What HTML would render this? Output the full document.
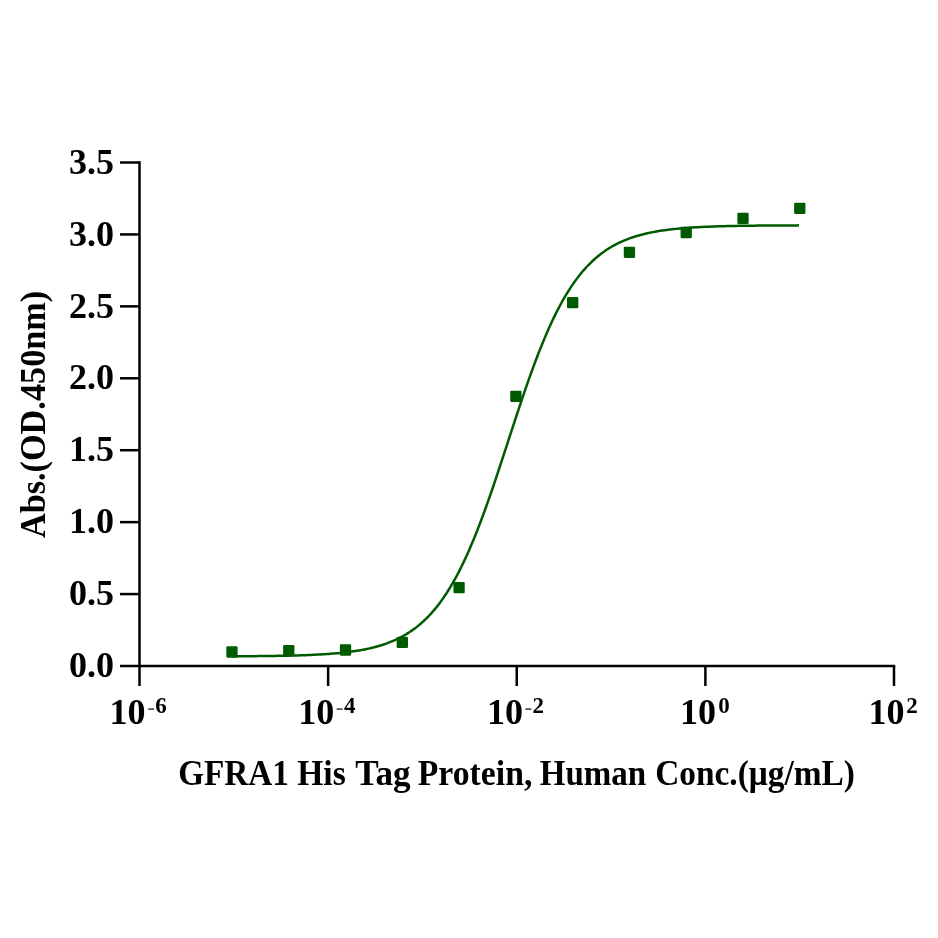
<!DOCTYPE html>
<html lang="en"><head><meta charset="utf-8"><title>GFRA1 His Tag Protein, Human Conc.(μg/mL)</title>
<style>
html,body{margin:0;padding:0;background:#fff;}
body{width:938px;height:938px;overflow:hidden;}
svg{display:block;will-change:transform;}
text{font-family:"Liberation Serif",serif;font-weight:bold;fill:#000;}
</style></head><body>
<svg width="938" height="938" viewBox="0 0 938 938">
<rect width="938" height="938" fill="#fff"/>
<g stroke="#000" stroke-width="2.5" fill="none" stroke-linecap="butt">
<line x1="139.5" y1="161.25" x2="139.5" y2="686"/>
<line x1="120" y1="666.0" x2="895.25" y2="666.0"/>
<line x1="120" y1="594.07" x2="139.5" y2="594.07"/>
<line x1="120" y1="522.14" x2="139.5" y2="522.14"/>
<line x1="120" y1="450.21" x2="139.5" y2="450.21"/>
<line x1="120" y1="378.29" x2="139.5" y2="378.29"/>
<line x1="120" y1="306.36" x2="139.5" y2="306.36"/>
<line x1="120" y1="234.43" x2="139.5" y2="234.43"/>
<line x1="120" y1="162.50" x2="139.5" y2="162.50"/>
<line x1="328.12" y1="666.0" x2="328.12" y2="686"/>
<line x1="516.75" y1="666.0" x2="516.75" y2="686"/>
<line x1="705.38" y1="666.0" x2="705.38" y2="686"/>
<line x1="894.00" y1="666.0" x2="894.00" y2="686"/>
</g>
<polyline points="231.87,656.30 233.77,656.29 235.66,656.28 237.56,656.27 239.46,656.26 241.35,656.25 243.25,656.24 245.15,656.22 247.04,656.21 248.94,656.20 250.84,656.18 252.73,656.17 254.63,656.15 256.53,656.13 258.42,656.12 260.32,656.10 262.22,656.08 264.11,656.05 266.01,656.03 267.91,656.01 269.80,655.98 271.70,655.96 273.60,655.93 275.50,655.90 277.39,655.87 279.29,655.83 281.19,655.80 283.08,655.76 284.98,655.72 286.88,655.68 288.77,655.64 290.67,655.59 292.57,655.55 294.46,655.50 296.36,655.44 298.26,655.38 300.15,655.33 302.05,655.26 303.95,655.20 305.84,655.13 307.74,655.05 309.64,654.97 311.53,654.89 313.43,654.80 315.33,654.71 317.22,654.62 319.12,654.51 321.02,654.41 322.91,654.29 324.81,654.17 326.71,654.04 328.60,653.91 330.50,653.77 332.40,653.62 334.29,653.46 336.19,653.30 338.09,653.13 339.98,652.94 341.88,652.75 343.78,652.54 345.68,652.33 347.57,652.10 349.47,651.86 351.37,651.61 353.26,651.34 355.16,651.06 357.06,650.76 358.95,650.45 360.85,650.12 362.75,649.77 364.64,649.41 366.54,649.02 368.44,648.62 370.33,648.19 372.23,647.74 374.13,647.26 376.02,646.76 377.92,646.24 379.82,645.68 381.71,645.10 383.61,644.48 385.51,643.84 387.40,643.16 389.30,642.44 391.20,641.69 393.09,640.90 394.99,640.07 396.89,639.19 398.78,638.27 400.68,637.31 402.58,636.29 404.47,635.22 406.37,634.11 408.27,632.93 410.16,631.70 412.06,630.40 413.96,629.05 415.86,627.63 417.75,626.13 419.65,624.57 421.55,622.94 423.44,621.23 425.34,619.44 427.24,617.56 429.13,615.61 431.03,613.56 432.93,611.43 434.82,609.20 436.72,606.87 438.62,604.45 440.51,601.92 442.41,599.29 444.31,596.56 446.20,593.71 448.10,590.75 450.00,587.68 451.89,584.50 453.79,581.20 455.69,577.78 457.58,574.24 459.48,570.57 461.38,566.79 463.27,562.89 465.17,558.87 467.07,554.72 468.96,550.46 470.86,546.07 472.76,541.57 474.65,536.95 476.55,532.22 478.45,527.38 480.34,522.44 482.24,517.39 484.14,512.25 486.04,507.01 487.93,501.68 489.83,496.28 491.73,490.79 493.62,485.24 495.52,479.62 497.42,473.96 499.31,468.24 501.21,462.48 503.11,456.69 505.00,450.88 506.90,445.06 508.80,439.23 510.69,433.40 512.59,427.58 514.49,421.78 516.38,416.01 518.28,410.28 520.18,404.58 522.07,398.94 523.97,393.36 525.87,387.85 527.76,382.41 529.66,377.05 531.56,371.77 533.45,366.58 535.35,361.49 537.25,356.50 539.14,351.61 541.04,346.84 542.94,342.17 544.83,337.62 546.73,333.18 548.63,328.86 550.52,324.67 552.42,320.59 554.32,316.63 556.22,312.80 558.11,309.08 560.01,305.49 561.91,302.02 563.80,298.66 565.70,295.43 567.60,292.31 569.49,289.30 571.39,286.41 573.29,283.62 575.18,280.95 577.08,278.38 578.98,275.91 580.87,273.54 582.77,271.27 584.67,269.09 586.56,267.01 588.46,265.01 590.36,263.10 592.25,261.28 594.15,259.53 596.05,257.86 597.94,256.27 599.84,254.75 601.74,253.30 603.63,251.91 605.53,250.59 607.43,249.33 609.32,248.13 611.22,246.99 613.12,245.90 615.01,244.86 616.91,243.87 618.81,242.93 620.70,242.04 622.60,241.19 624.50,240.38 626.40,239.61 628.29,238.88 630.19,238.18 632.09,237.52 633.98,236.89 635.88,236.30 637.78,235.73 639.67,235.19 641.57,234.68 643.47,234.19 645.36,233.73 647.26,233.30 649.16,232.88 651.05,232.49 652.95,232.11 654.85,231.76 656.74,231.42 658.64,231.10 660.54,230.80 662.43,230.51 664.33,230.24 666.23,229.98 668.12,229.73 670.02,229.50 671.92,229.28 673.81,229.07 675.71,228.87 677.61,228.68 679.50,228.50 681.40,228.33 683.30,228.17 685.19,228.02 687.09,227.88 688.99,227.74 690.88,227.61 692.78,227.49 694.68,227.37 696.58,227.26 698.47,227.16 700.37,227.06 702.27,226.96 704.16,226.87 706.06,226.79 707.96,226.71 709.85,226.63 711.75,226.56 713.65,226.49 715.54,226.43 717.44,226.37 719.34,226.31 721.23,226.26 723.13,226.20 725.03,226.15 726.92,226.11 728.82,226.06 730.72,226.02 732.61,225.98 734.51,225.94 736.41,225.91 738.30,225.87 740.20,225.84 742.10,225.81 743.99,225.78 745.89,225.76 747.79,225.73 749.68,225.71 751.58,225.68 753.48,225.66 755.37,225.64 757.27,225.62 759.17,225.60 761.06,225.58 762.96,225.57 764.86,225.55 766.76,225.54 768.65,225.52 770.55,225.51 772.45,225.50 774.34,225.48 776.24,225.47 778.14,225.46 780.03,225.45 781.93,225.44 783.83,225.43 785.72,225.42 787.62,225.41 789.52,225.41 791.41,225.40 793.31,225.39 795.21,225.39 797.10,225.38 799.00,225.37" fill="none" stroke="#005a00" stroke-width="2.5" stroke-linejoin="round"/>
<g fill="#005a00">
<rect x="226.32" y="646.35" width="11.3" height="11.3" rx="1.1"/>
<rect x="283.10" y="645.05" width="11.3" height="11.3" rx="1.1"/>
<rect x="339.88" y="644.35" width="11.3" height="11.3" rx="1.1"/>
<rect x="396.67" y="636.75" width="11.3" height="11.3" rx="1.1"/>
<rect x="453.45" y="581.95" width="11.3" height="11.3" rx="1.1"/>
<rect x="510.23" y="390.65" width="11.3" height="11.3" rx="1.1"/>
<rect x="567.01" y="296.95" width="11.3" height="11.3" rx="1.1"/>
<rect x="623.79" y="246.65" width="11.3" height="11.3" rx="1.1"/>
<rect x="680.57" y="226.85" width="11.3" height="11.3" rx="1.1"/>
<rect x="737.36" y="212.75" width="11.3" height="11.3" rx="1.1"/>
<rect x="794.14" y="202.65" width="11.3" height="11.3" rx="1.1"/>
</g>
<g font-size="36" text-anchor="end">
<text x="114" y="677.20">0.0</text>
<text x="114" y="605.27">0.5</text>
<text x="114" y="533.34">1.0</text>
<text x="114" y="461.41">1.5</text>
<text x="114" y="389.49">2.0</text>
<text x="114" y="317.56">2.5</text>
<text x="114" y="245.63">3.0</text>
<text x="114" y="173.70">3.5</text>
</g>
<g font-size="36">
<text x="109.40" y="724.3">10<tspan x="166.10" y="713.3" font-size="23" text-anchor="end"><tspan font-weight="normal" fill="#555" dx="0.6" dy="1.7">-</tspan><tspan dx="0.4" dy="-1.7">6</tspan></tspan></text>
<text x="298.20" y="724.3">10<tspan x="354.80" y="713.3" font-size="23" text-anchor="end"><tspan font-weight="normal" fill="#555" dx="0.6" dy="1.7">-</tspan><tspan dx="0.4" dy="-1.7">4</tspan></tspan></text>
<text x="487.05" y="724.3">10<tspan x="543.40" y="713.3" font-size="23" text-anchor="end"><tspan font-weight="normal" fill="#555" dx="0.6" dy="1.7">-</tspan><tspan dx="0.4" dy="-1.7">2</tspan></tspan></text>
<text x="679.90" y="724.3">10<tspan x="729.80" y="713.3" font-size="23" text-anchor="end">0</tspan></text>
<text x="868.50" y="724.3">10<tspan x="917.80" y="713.3" font-size="23" text-anchor="end">2</tspan></text>
</g>
<text y="784.8" font-size="35.4"><tspan x="178.15" textLength="110.79" lengthAdjust="spacingAndGlyphs">GFRA1</tspan> <tspan x="297.27" textLength="48.48" lengthAdjust="spacingAndGlyphs">His</tspan> <tspan x="355.32" textLength="55.38" lengthAdjust="spacingAndGlyphs">Tag</tspan> <tspan x="417.76" textLength="114.57" lengthAdjust="spacingAndGlyphs">Protein,</tspan> <tspan x="539.78" textLength="106.46" lengthAdjust="spacingAndGlyphs">Human</tspan> <tspan x="655.14" textLength="199.85" lengthAdjust="spacingAndGlyphs">Conc.(μg/mL)</tspan></text>
<text transform="translate(45,538.10) rotate(-90)" font-size="36" textLength="247.32" lengthAdjust="spacingAndGlyphs">Abs.(OD.450nm)</text>
</svg></body></html>
